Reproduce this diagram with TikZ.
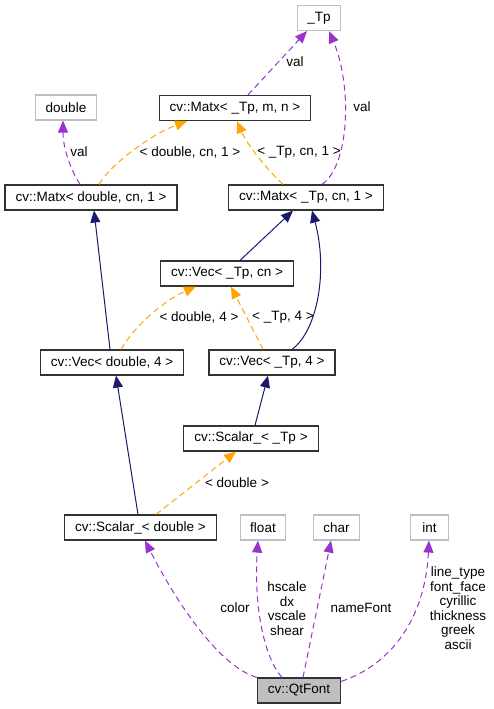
\documentclass[tikz,border=0pt]{standalone}
\usepackage{fontspec}
\setmainfont{Liberation Sans}
\usetikzlibrary{arrows.meta}
\definecolor{usecol}{HTML}{9A32CD}
\definecolor{tplcol}{HTML}{FFA500}
\definecolor{inhcol}{HTML}{191970}
\definecolor{boxgrey}{HTML}{BFBFBF}
\begin{document}
\begin{tikzpicture}[x=1pt,y=-1pt,
    font=\fontsize{13.5}{14.5}\selectfont,
    cls/.style={draw=black!80,line width=1.2pt,minimum height=25pt,inner xsep=10.5pt,inner ysep=0pt},
    ext/.style={draw=boxgrey,line width=1.2pt,minimum height=25pt,minimum width=38pt,inner xsep=10pt,inner ysep=0pt},
    lbl/.style={inner sep=0pt,align=center},
    tip/.style={-{Triangle[length=12pt,width=10pt]}},
    dsh/.style={dash pattern=on 6pt off 4pt}]
  \useasboundingbox (0,0) rectangle (493,709);
  \draw
    (319,18) node[ext] (tp){\_Tp}
    (66,107.5) node[ext] (dbl){double}
    (235,108) node[cls] (mmn){cv::Matx< \_Tp, m, n >}
    (91,197.5) node[cls] (mdc){cv::Matx< double, cn, 1 >}
    (306,197.5) node[cls] (mtc){cv::Matx< \_Tp, cn, 1 >}
    (227,273.5) node[cls] (vtc){cv::Vec< \_Tp, cn >}
    (112,362.5) node[cls] (vd4){cv::Vec< double, 4 >}
    (272,362.5) node[cls] (vt4){cv::Vec< \_Tp, 4 >}
    (251,438.5) node[cls] (st){cv::Scalar\_< \_Tp >}
    (140.5,527.5) node[cls] (sd){cv::Scalar\_< double >}
    (263,527.5) node[ext] (flt){float}
    (336.5,527.5) node[ext] (chr){char}
    (429.5,527.5) node[ext] (int){int}
    (299,690.5) node[cls,fill=boxgrey] (qt){cv::QtFont};
  % inheritance
  \begin{scope}[inhcol,line width=1pt,tip]
    \draw ([xshift=13pt]vtc.north) -- ([xshift=-13pt]mtc.south);
    \draw ([xshift=20pt]vt4.north) .. controls (318,330) and (328,270) .. ([xshift=6pt]mtc.south);
    \draw ([xshift=-2pt]vd4.north) -- ([xshift=3pt]mdc.south);
    \draw ([xshift=4pt]st.north) -- ([xshift=-4pt]vt4.south);
    \draw ([xshift=-2.5pt]sd.north) -- ([xshift=4pt]vd4.south);
  \end{scope}
  % template instances
  \begin{scope}[tplcol,line width=1pt,tip,dsh]
    \draw ([xshift=8pt]mdc.north) .. controls (110,165) and (150,135) .. ([xshift=-48pt]mmn.south);
    \draw ([xshift=-23pt]mtc.north) .. controls (262,165) and (245,140) .. ([xshift=2pt]mmn.south);
    \draw ([xshift=9pt]vd4.north) .. controls (135,325) and (165,300) .. ([xshift=-31pt]vtc.south);
    \draw ([xshift=-9pt]vt4.north) -- ([xshift=4pt]vtc.south);
    \draw ([xshift=15.5pt]sd.north) -- ([xshift=-15pt]st.south);
  \end{scope}
  % members
  \begin{scope}[usecol,line width=1pt,tip,dsh]
    \draw ([xshift=13pt]mmn.north) -- ([xshift=-12pt]tp.south);
    \draw ([xshift=16pt]mtc.north) .. controls (350,165) and (352,85) .. ([xshift=10pt]tp.south);
    \draw ([xshift=-11pt]mdc.north) .. controls (68,165) and (63,145) .. ([xshift=-3pt]dbl.south);
    \draw (qt.north west) .. controls (215,665) and (170,590) .. ([xshift=4.5pt]sd.south);
    \draw ([xshift=-17pt]qt.north) .. controls (262,655) and (254,600) .. ([xshift=-5pt]flt.south);
    \draw ([xshift=4pt]qt.north) -- ([xshift=-5.5pt]chr.south);
    \draw ([yshift=-4pt]qt.north east) .. controls (390,665) and (425,620) .. ([xshift=-0.5pt]int.south);
  \end{scope}
  % edge labels
  \node[lbl] (l1) at (295,62) {val};
  \node[lbl] (l2) at (362,107) {val};
  \node[lbl] (l3) at (79,152) {val};
  \node[lbl] (l4) at (190,152) {< double, cn, 1 >};
  \node[lbl] (l5) at (299,152) {< \_Tp, cn, 1 >};
  \node[lbl] (l6) at (199,317) {< double, 4 >};
  \node[lbl] (l7) at (283,317) {< \_Tp, 4 >};
  \node[lbl] (l8) at (237,483) {< double >};
  \node[lbl] (l9) at (235,608) {color};
  \node[lbl] (l10) at (287,608.5) {hscale\\dx\\vscale\\shear};
  \node[lbl] (l11) at (361,608) {nameFont};
  \node[lbl] (l12) at (458,608) {line\_type\\font\_face\\cyrillic\\thickness\\greek\\ascii};
\end{tikzpicture}
\end{document}
